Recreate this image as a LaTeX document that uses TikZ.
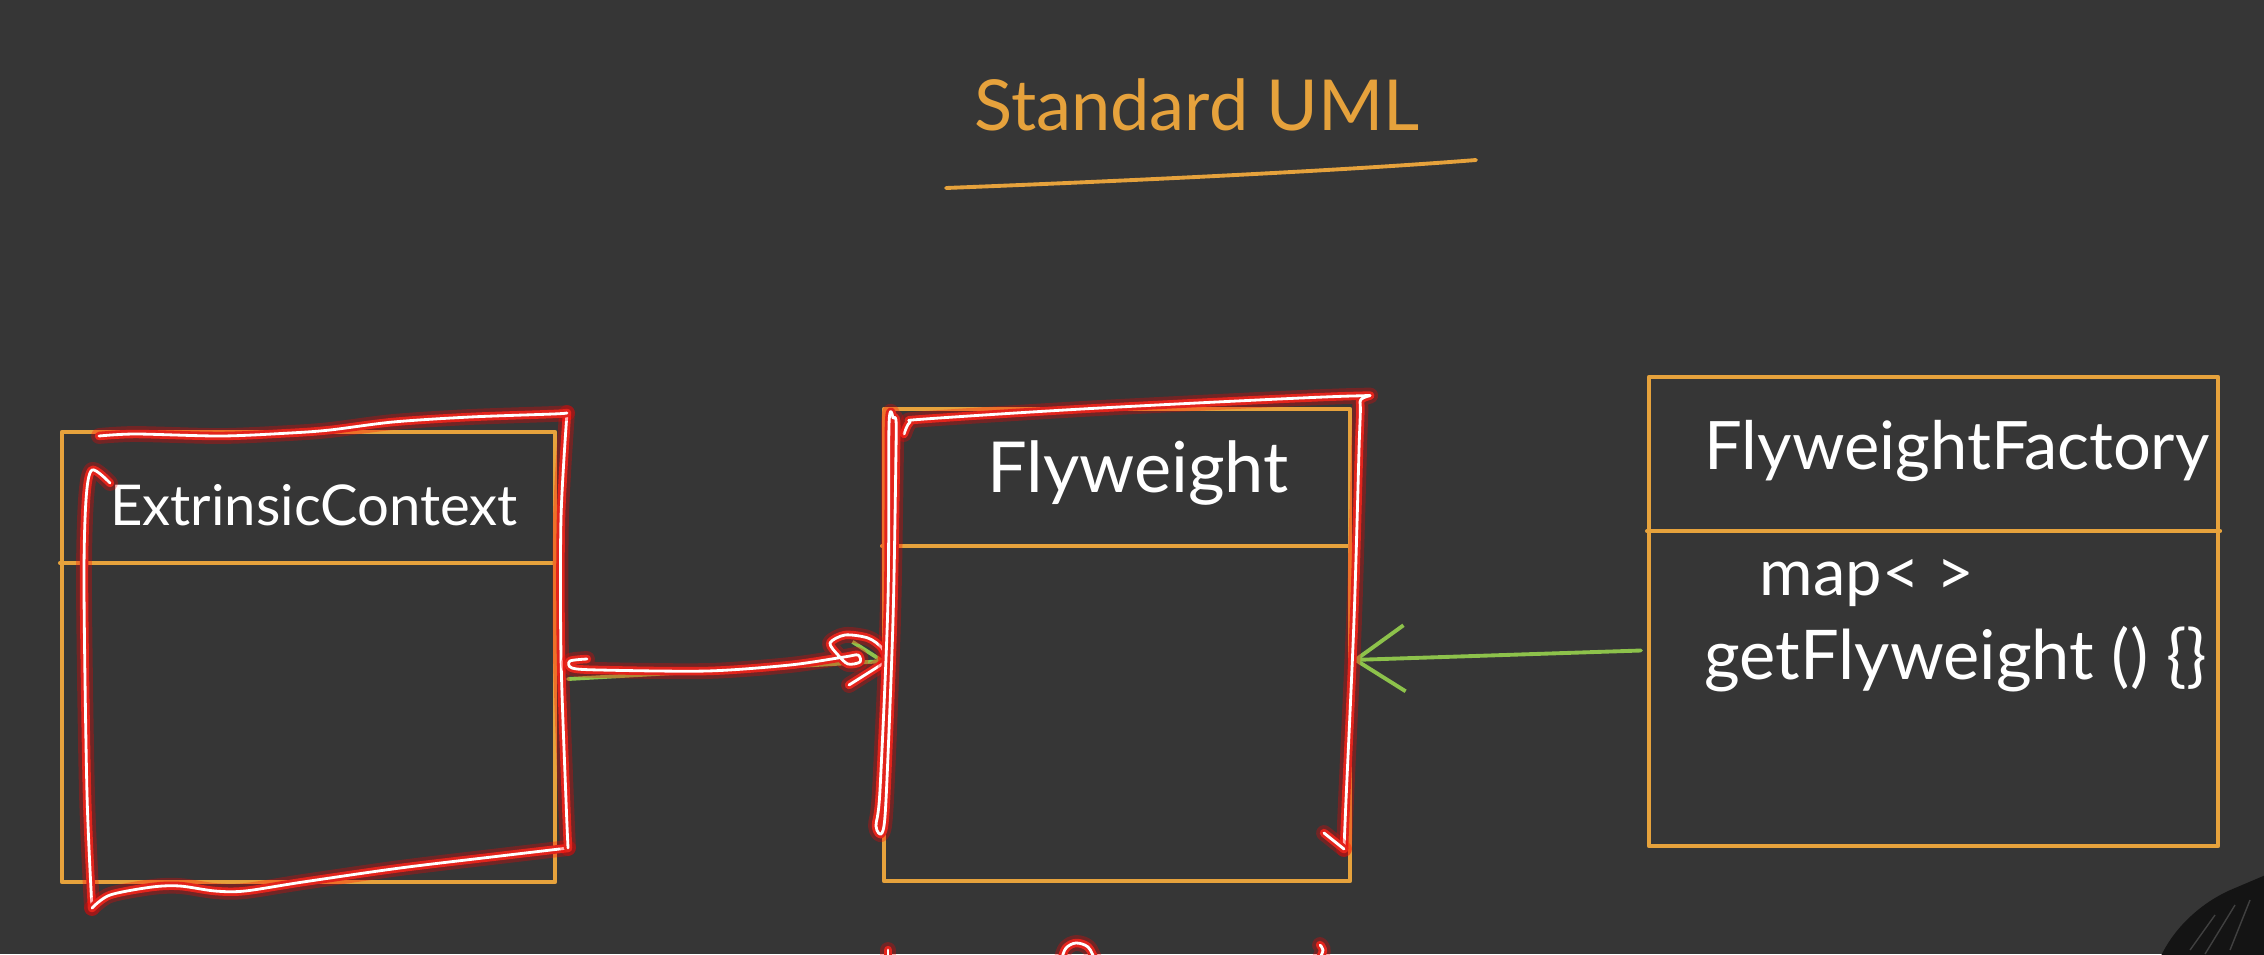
\documentclass[tikz,border=0pt]{standalone}
\usepackage{fontspec}
\setmainfont{Lato}
\usetikzlibrary{arrows.meta}
\definecolor{bg}{HTML}{363636}
\definecolor{uorange}{HTML}{E6A23C}
\definecolor{ugreen}{HTML}{8DC24B}
\definecolor{glowred}{HTML}{E3241C}
\tikzset{
  umlbox/.style={draw=uorange, line width=1.1pt, rectangle, inner sep=0pt, line join=round},
  orangeline/.style={draw=uorange, line width=1.1pt, line cap=round},
  greenarrow/.style={draw=ugreen, line width=1.1pt, line cap=round},
  handtxt/.style={text=white, inner sep=0pt},
  glow/.style={draw=white, line width=0.8pt, line cap=round, line join=round,
    preaction={draw=red, line width=4.5pt, opacity=0.3, line cap=round, line join=round},
    preaction={draw=glowred, line width=2.4pt, line cap=round, line join=round}}
}
\begin{document}
\begin{tikzpicture}[x=0.01cm,y=-0.01cm]
\useasboundingbox (0,0) rectangle (2264,954);
\fill[bg] (0,0) rectangle (2264,954);

% title
\node[text=uorange, inner sep=0pt, anchor=base, font=\fontsize{20}{23}\selectfont] (title) at (1197,130) {Standard UML};
\coordinate (ul1) at (946,188);
\coordinate (ul2) at (1476,160);
\draw[orangeline] (ul1) .. controls (1150,180) and (1350,170) .. (ul2);

% boxes
\node[umlbox, minimum width=4.93cm, minimum height=4.50cm] (ec) at (308.5,657) {};
\draw[orangeline] (ec.west |- 0,563) -- (ec.east |- 0,563);
\node[umlbox, minimum width=4.66cm, minimum height=4.72cm] (fw) at (1117,645) {};
\draw[orangeline] (fw.west |- 0,546) -- (fw.east |- 0,546);
\node[umlbox, minimum width=5.69cm, minimum height=4.69cm] (ff) at (1933.5,611.5) {};
\draw[orangeline] (ff.west |- 0,531) -- (ff.east |- 0,531);

% texts
\node[handtxt, anchor=base, font=\fontsize{16}{18}\selectfont] (ectitle) at (314,525) {ExtrinsicContext};
\node[handtxt, anchor=base, font=\fontsize{20}{22}\selectfont] (fwtitle) at (1138,492) {Flyweight};
\node[handtxt, anchor=base, font=\fontsize{19}{22}\selectfont] (fftitle) at (1957,469) {FlyweightFactory};
\node[handtxt, anchor=base west, font=\fontsize{18.5}{22}\selectfont] (ffmap) at (1759,595) {map< >};
\node[handtxt, anchor=base west, font=\fontsize{19.5}{22}\selectfont] (ffget) at (1704,679) {getFlyweight () \{\}};

% green connectors
\draw[greenarrow, -{Straight Barb[length=2.9mm,width=4.2mm]}] ([shift={(11,22)}]ec.east) -- ([shift={(4,16)}]fw.west);
\draw[greenarrow, -{Straight Barb[length=4.9mm,width=6.6mm]}] ([shift={(-6,39)}]ff.west) -- ([shift={(0,15)}]fw.east);

% red highlight around ExtrinsicContext
\draw[glow] plot[smooth, tension=0.5] coordinates {(110,483) (92,470) (86,500) (84,587) (87,794) (92,908)};
\draw[glow] plot[smooth, tension=0.5] coordinates {(92,908) (110,895) (152,887) (180,886) (215,891) (245,891) (303,882) (400,868) (500,856) (568,848)};
\draw[glow] plot[smooth, tension=0.5] coordinates {(568,848) (566,800) (561,656) (561,518) (567,413)};
\draw[glow] plot[smooth, tension=0.5] coordinates {(567,413) (553,414) (470,417) (393,422) (330,430) (290,433) (221,436) (136,434) (99,436)};

% red arrow
\draw[glow] plot[smooth, tension=0.5] coordinates {(587,659) (570,661) (572,668) (600,670) (707,671) (790,665) (844,657) (858,655) (860,662) (848,664) (838,655) (830,643) (845,635) (868,638) (882,648) (887,661)};
\draw[glow] (887,661) -- (849,685);

% red highlight around Flyweight
\draw[glow] plot[smooth, tension=0.5] coordinates {(904,434) (910,422) (925,419) (1100,408) (1352,396) (1360,402) (1359,450) (1354,620) (1346,800) (1344,849)};
\draw[glow] (1344,849) -- (1324,833);
\draw[glow] plot[smooth, tension=0.5] coordinates {(893,418) (889,425) (888,600) (880,790) (876,826) (882,833) (886,800) (893,620) (896,450) (896,420) (893,418)};

% cut-off red strokes at the bottom
\draw[glow] (888,950) -- (888,958);
\draw[glow] plot[smooth, tension=0.6] coordinates {(1062,958) (1066,948) (1076,943) (1088,947) (1094,958)};
\draw[glow] plot[smooth, tension=0.6] coordinates {(1320,945) (1323,950) (1320,958)};

% dark object at bottom right
\fill[black!92] (2160,958) .. controls (2175,925) and (2205,900) .. (2235,888) -- (2268,874) -- (2268,958) -- cycle;
\draw[black!75, line width=0.4pt] (2190,950) -- (2215,915) (2205,954) -- (2235,905) (2230,950) -- (2250,900);
\end{tikzpicture}
\end{document}
